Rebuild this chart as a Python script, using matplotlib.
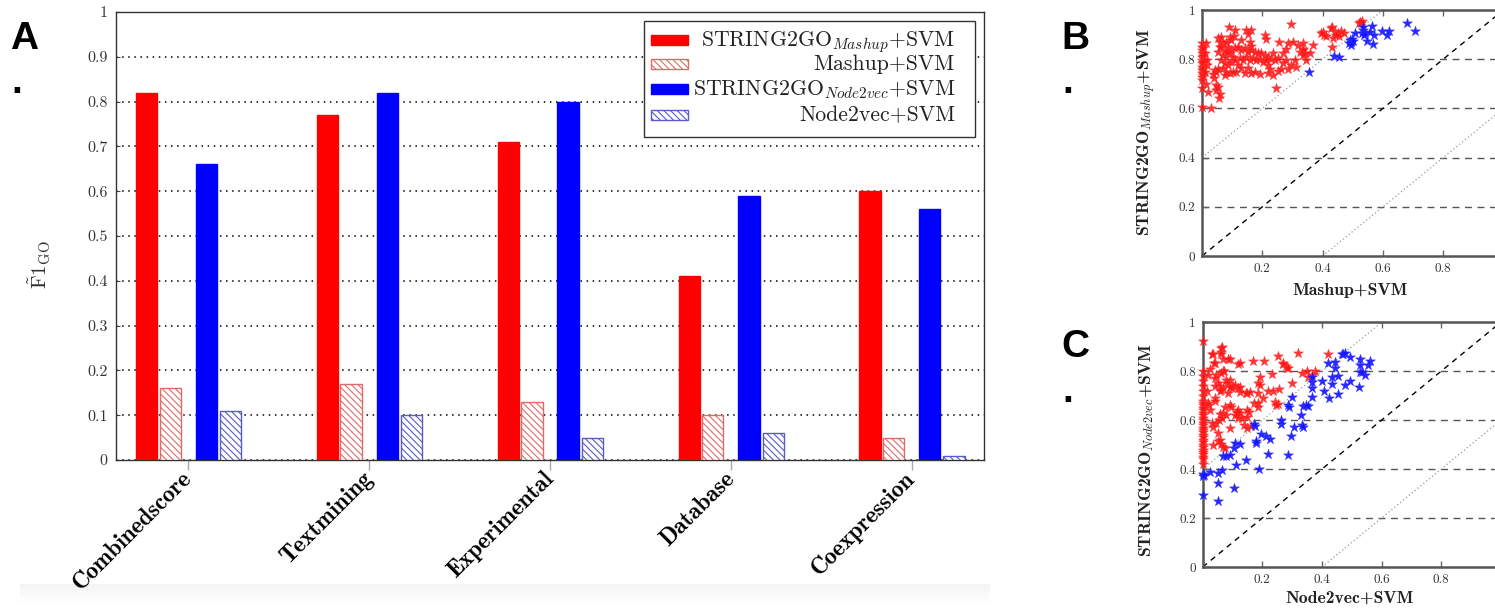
import numpy as np
import matplotlib
matplotlib.use('Agg')
import matplotlib.pyplot as plt
from matplotlib.patches import Rectangle

plt.rcParams['mathtext.fontset'] = 'cm'
plt.rcParams['axes.formatter.use_mathtext'] = True
plt.rcParams['hatch.linewidth'] = 0.8

# ---------------- data: panel A ----------------
categories = ['Combinedscore', 'Textmining', 'Experimental', 'Database', 'Coexpression']
s2go_mashup = [0.82, 0.77, 0.71, 0.41, 0.60]
mashup_svm = [0.16, 0.17, 0.13, 0.10, 0.05]
s2go_node2vec = [0.66, 0.82, 0.80, 0.59, 0.56]
node2vec_svm = [0.11, 0.10, 0.05, 0.06, 0.01]
series_labels = [r'STRING2GO$_{Mashup}$+SVM', 'Mashup+SVM',
                 r'STRING2GO$_{Node2vec}$+SVM', 'Node2vec+SVM']
yticks_a = [0, 0.1, 0.2, 0.3, 0.4, 0.5, 0.6, 0.7, 0.8, 0.9, 1]
yticklabels_a = ['0', '0.1', '0.2', '0.3', '0.4', '0.5', '0.6', '0.7', '0.8', '0.9', '1']

# ---------------- data: panel B (x = Mashup+SVM, y = STRING2GO_Mashup+SVM) ----------------
b_red = [
    (0.000, 0.607), (0.029, 0.603), (0.000, 0.682), (0.020, 0.668), (0.014, 0.699),
    (0.047, 0.695), (0.053, 0.688), (0.045, 0.675), (0.056, 0.641), (0.060, 0.660),
    (0.000, 0.715), (0.000, 0.729), (0.000, 0.743), (0.000, 0.756), (0.000, 0.770),
    (0.000, 0.783), (0.000, 0.797), (0.000, 0.810), (0.000, 0.824), (0.000, 0.837),
    (0.000, 0.851), (0.000, 0.864), (0.003, 0.735), (0.004, 0.760), (0.003, 0.790),
    (0.004, 0.815), (0.002, 0.845), (0.014, 0.864), (0.011, 0.824), (0.016, 0.795),
    (0.017, 0.775), (0.010, 0.750), (0.042, 0.756), (0.048, 0.750), (0.053, 0.762),
    (0.036, 0.740), (0.040, 0.725),
    (0.053, 0.885), (0.064, 0.892), (0.059, 0.871), (0.070, 0.864), (0.081, 0.871),
    (0.092, 0.892), (0.097, 0.878), (0.106, 0.894), (0.064, 0.851), (0.075, 0.837),
    (0.086, 0.851), (0.097, 0.837), (0.108, 0.844), (0.053, 0.831), (0.070, 0.817),
    (0.081, 0.810), (0.092, 0.824), (0.103, 0.810), (0.064, 0.797), (0.075, 0.783),
    (0.086, 0.776), (0.097, 0.790), (0.108, 0.797), (0.070, 0.763), (0.081, 0.749),
    (0.092, 0.743), (0.103, 0.749), (0.075, 0.736), (0.059, 0.851), (0.084, 0.831),
    (0.088, 0.932), (0.108, 0.919), (0.147, 0.919), (0.164, 0.919), (0.153, 0.902),
    (0.131, 0.880), (0.158, 0.871), (0.164, 0.854), (0.119, 0.851), (0.130, 0.837),
    (0.141, 0.844), (0.152, 0.831), (0.164, 0.837), (0.175, 0.831), (0.186, 0.824),
    (0.197, 0.827), (0.208, 0.817), (0.219, 0.810), (0.230, 0.799), (0.241, 0.797),
    (0.252, 0.803), (0.125, 0.803), (0.136, 0.797), (0.147, 0.810), (0.158, 0.797),
    (0.169, 0.803), (0.180, 0.797), (0.191, 0.799), (0.202, 0.790), (0.213, 0.797),
    (0.119, 0.776), (0.130, 0.763), (0.114, 0.749), (0.208, 0.898), (0.213, 0.881),
    (0.254, 0.871), (0.294, 0.943), (0.247, 0.682), (0.141, 0.743), (0.164, 0.743),
    (0.175, 0.749), (0.191, 0.740), (0.219, 0.745), (0.235, 0.736), (0.252, 0.753),
    (0.263, 0.759), (0.285, 0.759), (0.224, 0.759), (0.153, 0.763), (0.269, 0.783),
    (0.280, 0.797), (0.307, 0.797), (0.324, 0.830), (0.335, 0.840), (0.285, 0.864),
    (0.302, 0.871), (0.318, 0.857), (0.340, 0.824), (0.345, 0.797), (0.296, 0.776),
    (0.313, 0.767), (0.219, 0.776), (0.235, 0.824), (0.269, 0.824), (0.280, 0.840),
    (0.336, 0.867), (0.336, 0.837), (0.336, 0.817), (0.367, 0.858), (0.358, 0.826),
    (0.430, 0.851), (0.436, 0.885), (0.400, 0.910), (0.405, 0.900), (0.410, 0.895),
    (0.395, 0.905), (0.440, 0.910), (0.450, 0.905), (0.460, 0.915), (0.455, 0.895),
    (0.470, 0.905), (0.445, 0.900), (0.430, 0.932), (0.427, 0.925), (0.524, 0.952),
    (0.520, 0.946), (0.528, 0.948), (0.530, 0.955),
]
b_blue = [
    (0.355, 0.749), (0.438, 0.814), (0.453, 0.810), (0.490, 0.878), (0.488, 0.864),
    (0.495, 0.870), (0.498, 0.882), (0.500, 0.875), (0.493, 0.858), (0.508, 0.908),
    (0.530, 0.908), (0.533, 0.919), (0.535, 0.932), (0.540, 0.905), (0.537, 0.898),
    (0.563, 0.935), (0.557, 0.912), (0.570, 0.898), (0.546, 0.875), (0.568, 0.860),
    (0.596, 0.915), (0.615, 0.898), (0.621, 0.916), (0.679, 0.946), (0.706, 0.916),
]

# ---------------- data: panel C (x = Node2vec+SVM, y = STRING2GO_Node2vec+SVM) ----------------
c_red = [
    (0.000, 0.925), (0.000, 0.420), (0.000, 0.440), (0.000, 0.460), (0.000, 0.480),
    (0.000, 0.500), (0.000, 0.520), (0.000, 0.540), (0.000, 0.560), (0.000, 0.580),
    (0.000, 0.600), (0.000, 0.620), (0.000, 0.640), (0.000, 0.660), (0.000, 0.680),
    (0.000, 0.700), (0.000, 0.720), (0.000, 0.740), (0.000, 0.760), (0.000, 0.780),
    (0.000, 0.800), (0.002, 0.450), (0.002, 0.470), (0.002, 0.490), (0.002, 0.510),
    (0.002, 0.530), (0.002, 0.550), (0.002, 0.570), (0.002, 0.590), (0.002, 0.610),
    (0.002, 0.630), (0.002, 0.650), (0.002, 0.670),
    (0.062, 0.894), (0.062, 0.880), (0.062, 0.871), (0.035, 0.871), (0.040, 0.835),
    (0.067, 0.848), (0.090, 0.848), (0.025, 0.810), (0.118, 0.830), (0.170, 0.843),
    (0.207, 0.843), (0.252, 0.862), (0.270, 0.830), (0.281, 0.822), (0.233, 0.787),
    (0.191, 0.777), (0.067, 0.800), (0.073, 0.800), (0.062, 0.793), (0.046, 0.784),
    (0.040, 0.771), (0.050, 0.750), (0.057, 0.740), (0.062, 0.725), (0.067, 0.730),
    (0.057, 0.718), (0.079, 0.764), (0.090, 0.764), (0.100, 0.740), (0.110, 0.745),
    (0.120, 0.733), (0.097, 0.730), (0.085, 0.710), (0.150, 0.713), (0.186, 0.750),
    (0.191, 0.745), (0.219, 0.720), (0.236, 0.720), (0.255, 0.726), (0.300, 0.750),
    (0.171, 0.671), (0.186, 0.670), (0.184, 0.655), (0.242, 0.675), (0.253, 0.668),
    (0.247, 0.662), (0.042, 0.690), (0.040, 0.680), (0.020, 0.660), (0.018, 0.670),
    (0.074, 0.655), (0.090, 0.660), (0.096, 0.655), (0.068, 0.630), (0.079, 0.620),
    (0.057, 0.625), (0.115, 0.635), (0.125, 0.628), (0.110, 0.620), (0.120, 0.607),
    (0.131, 0.607), (0.157, 0.635), (0.054, 0.600), (0.065, 0.607), (0.046, 0.587),
    (0.035, 0.573), (0.030, 0.587), (0.090, 0.567), (0.140, 0.580), (0.148, 0.567),
    (0.052, 0.513), (0.057, 0.518), (0.060, 0.503), (0.035, 0.498), (0.068, 0.490),
    (0.076, 0.488), (0.050, 0.546), (0.162, 0.576), (0.204, 0.689), (0.187, 0.710),
    (0.145, 0.710), (0.148, 0.642), (0.150, 0.614), (0.114, 0.628), (0.120, 0.642),
    (0.125, 0.737), (0.125, 0.717), (0.160, 0.717), (0.080, 0.750), (0.090, 0.735),
    (0.030, 0.870), (0.038, 0.835), (0.019, 0.785), (0.013, 0.720), (0.064, 0.900),
    (0.086, 0.849), (0.125, 0.832), (0.268, 0.832), (0.282, 0.812), (0.321, 0.873),
    (0.332, 0.791), (0.350, 0.803), (0.355, 0.775), (0.366, 0.785), (0.377, 0.800),
    (0.285, 0.812), (0.419, 0.869), (0.040, 0.740), (0.024, 0.640),
]
c_blue = [
    (0.000, 0.382), (0.000, 0.370), (0.004, 0.376), (0.024, 0.390), (0.052, 0.385),
    (0.065, 0.396), (0.113, 0.417), (0.146, 0.437), (0.188, 0.400), (0.068, 0.454),
    (0.079, 0.452), (0.090, 0.456), (0.105, 0.485), (0.110, 0.505), (0.124, 0.503),
    (0.180, 0.508), (0.178, 0.515), (0.197, 0.543), (0.214, 0.535), (0.225, 0.525),
    (0.220, 0.461), (0.287, 0.457), (0.175, 0.576), (0.172, 0.585), (0.262, 0.600),
    (0.262, 0.586), (0.287, 0.662), (0.290, 0.655), (0.300, 0.696), (0.296, 0.535),
    (0.305, 0.573), (0.330, 0.622), (0.333, 0.580), (0.337, 0.571), (0.337, 0.658),
    (0.347, 0.660), (0.355, 0.656), (0.368, 0.696), (0.366, 0.730), (0.368, 0.757),
    (0.366, 0.778), (0.400, 0.760), (0.408, 0.720), (0.424, 0.692), (0.433, 0.746),
    (0.453, 0.705), (0.433, 0.777), (0.455, 0.780), (0.421, 0.832), (0.444, 0.838),
    (0.444, 0.815), (0.466, 0.870), (0.472, 0.872), (0.477, 0.875), (0.494, 0.860),
    (0.477, 0.743), (0.494, 0.762), (0.524, 0.734), (0.528, 0.852), (0.528, 0.825),
    (0.528, 0.798), (0.545, 0.785), (0.535, 0.795), (0.556, 0.825), (0.561, 0.843),
    (0.000, 0.294), (0.053, 0.342), (0.053, 0.271), (0.105, 0.322),
]
scatter_yticks = [0, 0.2, 0.4, 0.6, 0.8, 1]
scatter_yticklabels = ['0', '0.2', '0.4', '0.6', '0.8', '1']
scatter_xticks = [0.2, 0.4, 0.6, 0.8]
scatter_xticklabels = ['0.2', '0.4', '0.6', '0.8']

# ---------------- figure ----------------
W, H = 1495, 610
fig = plt.figure(figsize=(W / 100, H / 100), dpi=100)


def fx(px):
    return px / W


def fy(py):
    return 1 - py / H


# faint grey band at the bottom of panel A (screenshot artefact), fading downwards
band = np.linspace(0.955, 1.0, 20).reshape(-1, 1)
band_ax = fig.add_axes([fx(20), fy(606), (990 - 20) / W, (606 - 584) / H], zorder=-5)
band_ax.imshow(np.repeat(band, 2, axis=1), cmap='gray', vmin=0, vmax=1, aspect='auto',
               interpolation='bilinear')
band_ax.axis('off')

# ---------------- panel A ----------------
axA = fig.add_axes([fx(116), fy(460), (984 - 116) / W, (460 - 12) / H])
xpos = np.arange(len(categories))
offsets = [-0.23, -0.10, 0.10, 0.235]
width = 0.118
hatch = '\\' * 5
styles = [
    dict(facecolor='#ff0000', edgecolor='#ff0000'),
    dict(facecolor='white', edgecolor='#e06a6a', hatch=hatch),
    dict(facecolor='#0000ff', edgecolor='#0000ff'),
    dict(facecolor='white', edgecolor='#5a5ac8', hatch=hatch),
]
all_series = [s2go_mashup, mashup_svm, s2go_node2vec, node2vec_svm]
for vals, off, st in zip(all_series, offsets, styles):
    axA.bar(xpos + off, vals, width=width, linewidth=1.0, zorder=3, **st)

axA.set_xlim(-0.4, len(categories) - 0.6)
axA.set_ylim(0, 1)
axA.set_yticks(yticks_a)
axA.set_yticklabels(yticklabels_a, fontfamily='cmr10', fontsize=11.5, color='#333333')
axA.set_xticks(xpos)
axA.set_xticklabels(categories, rotation=45, ha='right', va='center',
                    rotation_mode='anchor', fontfamily='cmb10', fontsize=17)
axA.tick_params(axis='x', direction='out', length=7, width=1, color='#aaaaaa', pad=4)
axA.tick_params(axis='y', direction='in', length=3, width=0.8, color='#444444', pad=6)
axA.yaxis.grid(True, linestyle=(0, (1, 3)), color='black', linewidth=1.1)
axA.set_axisbelow(True)
for sp in axA.spines.values():
    sp.set_color('#333333')
    sp.set_linewidth(1.0)

fig.text(fx(40), fy(265), r'$\tilde{\mathrm{F}}1_{\mathrm{GO}}$', rotation=90,
         ha='center', va='center', fontsize=15, color='#333333')

# manual legend (right-aligned labels)
ax_w, ax_h = 984 - 116, 460 - 12


def axx(px):
    return (px - 116) / ax_w


def axy(py):
    return (460 - py) / ax_h


axA.add_patch(Rectangle((axx(644), axy(137)), axx(975) - axx(644), axy(21) - axy(137),
                        transform=axA.transAxes, facecolor='white', edgecolor='#333333',
                        linewidth=1.0, zorder=5))
row_centers = [40, 64, 89, 115]
for lab, st, rc in zip(series_labels, styles, row_centers):
    axA.add_patch(Rectangle((axx(651), axy(rc + 5)), axx(688) - axx(651), axy(rc - 5) - axy(rc + 5),
                            transform=axA.transAxes, linewidth=1.0, zorder=6, **st))
    axA.text(axx(955), axy(rc + 6), lab, transform=axA.transAxes, ha='right',
             va='baseline', fontfamily='cmr10', fontsize=15.7, color='#222222', zorder=7)

# ---------------- scatter panels ----------------
def scatter_panel(rect, red_pts, blue_pts):
    ax = fig.add_axes(rect)
    r = np.array(red_pts)
    b = np.array(blue_pts)
    ax.set_xlim(0, 1)
    ax.set_ylim(0, 1)
    for yv in [0.2, 0.4, 0.6, 0.8]:
        ax.axhline(yv, color='#555555', linewidth=1.0, dashes=(5, 4), zorder=1)
    ax.plot([0, 1], [0, 1], color='black', linewidth=1.0, dashes=(4, 3.5), zorder=1)
    ax.plot([0, 0.6], [0.4, 1], color='#999999', linewidth=0.9, linestyle=(0, (1, 2)), zorder=1)
    ax.plot([0.4, 1], [0, 0.6], color='#999999', linewidth=0.9, linestyle=(0, (1, 2)), zorder=1)
    ax.scatter(r[:, 0], r[:, 1], marker='*', s=55, color='#ff1010', edgecolors='#ff3030',
               linewidths=0.4, alpha=0.85, zorder=3, clip_on=False)
    ax.scatter(b[:, 0], b[:, 1], marker='*', s=55, color='#1010ff', edgecolors='#3030ff',
               linewidths=0.4, alpha=0.9, zorder=3, clip_on=False)
    ax.set_xticks(scatter_xticks)
    ax.set_xticklabels(scatter_xticklabels, fontfamily='cmr10', fontsize=9.5, color='#333333')
    ax.set_yticks(scatter_yticks)
    ax.set_yticklabels(scatter_yticklabels, fontfamily='cmr10', fontsize=9.5, color='#333333')
    ax.tick_params(direction='in', top=True, right=True, length=4, width=1,
                   color='#666666', pad=5)
    for sp in ax.spines.values():
        sp.set_color('#555555')
        sp.set_linewidth(1.8)
    return ax


axB = scatter_panel([fx(1202), fy(256), 301.5 / W, 246 / H], b_red, b_blue)
axC = scatter_panel([fx(1202.7), fy(567), 298 / W, 244.7 / H], c_red, c_blue)

fig.text(fx(1350), fy(290), 'Mashup+SVM', ha='center', va='center',
         fontfamily='cmb10', fontsize=12.7, color='#222222')
fig.text(fx(1147), fy(132), r'STRING2GO$_{Mashup}$+SVM', rotation=90, ha='center',
         va='center', fontfamily='cmb10', fontsize=12.7, color='#222222')
fig.text(fx(1350), fy(598), 'Node2vec+SVM', ha='center', va='center',
         fontfamily='cmb10', fontsize=12.7, color='#222222')
fig.text(fx(1147), fy(450), r'STRING2GO$_{Node2vec}$+SVM', rotation=90, ha='center',
         va='center', fontfamily='cmb10', fontsize=12.7, color='#222222')

# ---------------- panel letters ----------------
for letter, x0, ybase, ydot in [('A', 10, 49, 93), ('B', 1061, 49, 93), ('C', 1061, 357, 402)]:
    fig.text(fx(x0), fy(ybase), letter, ha='left', va='baseline', fontfamily='Liberation Sans',
             fontweight='bold', fontsize=28, color='black')
    fig.text(fx(x0 + 1), fy(ydot), '.', ha='left', va='baseline', fontfamily='Liberation Sans',
             fontweight='bold', fontsize=28, color='black')

fig.savefig('out.png', dpi=100)
